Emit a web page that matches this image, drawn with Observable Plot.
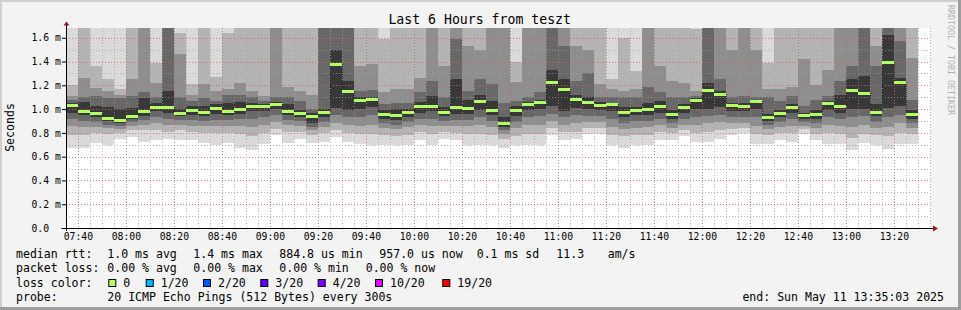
<!DOCTYPE html>
<html><head><meta charset="utf-8">
<script src="https://cdn.jsdelivr.net/npm/d3@7"></script>
<script src="https://cdn.jsdelivr.net/npm/@observablehq/plot@0.6"></script>
<style>
html,body{margin:0;padding:0;background:#f3f3f3;}
#wrap{position:relative;width:961px;height:310px;overflow:hidden;}
</style></head><body><div id="wrap"></div>
<script>
// ---- data ----
const binEnd = ["07:40","07:45","07:50","07:55","08:00","08:05","08:10","08:15","08:20","08:25","08:30","08:35","08:40","08:45","08:50","08:55",
"09:00","09:05","09:10","09:15","09:20","09:25","09:30","09:35","09:40","09:45","09:50","09:55",
"10:00","10:05","10:10","10:15","10:20","10:25","10:30","10:35","10:40","10:45","10:50","10:55",
"11:00","11:05","11:10","11:15","11:20","11:25","11:30","11:35","11:40","11:45","11:50","11:55",
"12:00","12:05","12:10","12:15","12:20","12:25","12:30","12:35","12:40","12:45","12:50","12:55",
"13:00","13:05","13:10","13:15","13:20","13:25","13:30"];
// median rtt per 5-minute bin (ms)
const median = [1.034,0.984,0.964,0.928,0.908,0.945,0.981,1.020,1.015,0.967,0.989,0.973,1.006,0.984,1.000,1.023,1.023,1.043,
0.984,0.964,0.945,0.973,1.376,1.149,1.079,1.082,0.959,0.950,0.973,1.026,1.026,0.975,1.015,1.006,1.070,0.994,
0.883,0.989,1.045,1.059,1.227,1.171,1.085,1.059,1.037,1.040,0.973,0.995,1.000,1.023,0.956,1.015,1.076,1.160,
1.127,1.031,1.026,1.065,0.936,0.964,1.015,0.953,0.959,1.051,1.026,1.157,1.132,0.978,1.398,1.230,0.956];
// smoke: upper edges of the nested bands (outermost -> innermost), ms
const hi1 = [1.75,1.75,1.75,1.75,1.75,1.75,1.75,1.75,1.75,1.75,1.75,1.75,1.75,1.75,1.75,1.75,1.75,1.75,
1.75,1.75,1.75,1.75,1.75,1.75,1.75,1.75,1.75,1.75,1.75,1.75,1.75,1.75,1.75,1.75,1.75,1.75,
1.75,1.75,1.75,1.75,1.75,1.75,1.75,1.75,1.75,1.75,1.75,1.75,1.75,1.75,1.75,1.75,1.75,1.75,
1.75,1.75,1.75,1.75,1.75,1.75,1.75,1.75,1.75,1.75,1.75,1.75,1.75,1.75,1.75,1.75,1.75];
const hi2 = [1.20,1.75,1.362,1.25,1.166,1.75,1.75,1.39,1.75,1.64,1.21,1.75,1.27,1.64,1.75,1.75,1.75,1.75,
1.75,1.75,1.75,1.75,1.75,1.75,1.75,1.75,1.59,1.75,1.75,1.75,1.75,1.75,1.75,1.75,1.75,1.75,
1.75,1.40,1.75,1.75,1.75,1.75,1.75,1.75,1.75,1.25,1.60,1.32,1.75,1.75,1.75,1.75,1.67,1.75,
1.75,1.75,1.75,1.75,1.39,1.75,1.75,1.75,1.75,1.75,1.75,1.75,1.75,1.75,1.75,1.75,1.75];
const hi3 = [1.11,1.264,1.18,1.15,1.12,1.25,1.75,1.22,1.75,1.46,1.12,1.21,1.15,1.166,1.22,1.15,1.11,1.75,
1.19,1.15,1.12,1.75,1.75,1.75,1.362,1.376,1.14,1.166,1.17,1.264,1.75,1.362,1.75,1.53,1.50,1.75,
1.75,1.23,1.75,1.75,1.75,1.75,1.53,1.50,1.21,1.166,1.15,1.166,1.75,1.36,1.24,1.22,1.15,1.75,
1.75,1.50,1.75,1.50,1.166,1.166,1.19,1.42,1.20,1.33,1.75,1.75,1.75,1.53,1.75,1.75,1.43];
const hi4 = [1.076,1.104,1.11,1.09,1.09,1.11,1.14,1.10,1.75,1.10,1.07,1.09,1.07,1.12,1.12,1.10,1.07,1.10,
1.10,1.07,1.00,1.75,1.75,1.75,1.15,1.16,1.04,1.05,1.05,1.14,1.24,1.10,1.59,1.15,1.25,1.21,
1.05,1.07,1.10,1.14,1.75,1.53,1.24,1.30,1.10,1.10,1.10,1.10,1.19,1.14,1.10,1.10,1.11,1.75,
1.25,1.10,1.11,1.10,1.10,1.07,1.11,1.03,1.08,1.11,1.24,1.36,1.75,1.36,1.75,1.57,1.08];
const hi5 = [1.05,1.06,1.026,1.02,1.00,1.01,1.09,1.05,1.15,1.00,1.03,1.03,1.04,1.05,1.06,1.05,1.04,1.06,
1.04,0.99,0.97,1.00,1.50,1.236,1.10,1.10,0.99,1.00,1.00,1.06,1.11,1.02,1.25,1.08,1.12,1.07,
0.93,1.03,1.06,1.08,1.33,1.25,1.12,1.10,1.06,1.05,1.02,1.02,1.05,1.07,0.99,1.04,1.09,1.22,
1.15,1.05,1.05,1.08,0.96,0.99,1.04,0.97,0.99,1.07,1.12,1.25,1.28,1.04,1.62,1.26,0.99];
// smoke: lower edges of the nested bands (outermost -> innermost), ms
const lo1 = [0.672,0.672,0.714,0.694,0.750,0.769,0.727,0.736,0.750,0.736,0.736,0.714,0.694,0.714,0.672,0.652,0.708,0.778,
0.714,0.750,0.714,0.720,0.769,0.727,0.708,0.694,0.694,0.694,0.694,0.736,0.694,0.752,0.744,0.694,0.694,0.694,
0.672,0.694,0.694,0.694,0.783,0.736,0.747,0.792,0.792,0.700,0.672,0.700,0.700,0.740,0.740,0.775,0.727,0.727,
0.750,0.783,0.797,0.708,0.708,0.740,0.720,0.792,0.736,0.708,0.708,0.652,0.714,0.700,0.667,0.708,0.708];
const lo2 = [0.78,0.78,0.80,0.79,0.80,0.82,0.82,0.82,0.81,0.82,0.81,0.80,0.80,0.80,0.79,0.77,0.80,0.83,
0.81,0.81,0.78,0.80,0.82,0.80,0.79,0.79,0.78,0.77,0.78,0.81,0.79,0.81,0.80,0.79,0.79,0.78,
0.75,0.77,0.79,0.79,0.84,0.81,0.81,0.84,0.84,0.78,0.77,0.78,0.78,0.81,0.80,0.82,0.80,0.81,
0.82,0.83,0.84,0.79,0.78,0.80,0.80,0.83,0.79,0.80,0.79,0.76,0.79,0.78,0.77,0.80,0.79];
const lo3 = [0.86,0.85,0.85,0.84,0.83,0.86,0.87,0.88,0.87,0.87,0.86,0.86,0.86,0.86,0.86,0.85,0.87,0.89,
0.87,0.86,0.82,0.85,0.88,0.87,0.86,0.87,0.84,0.83,0.85,0.87,0.86,0.86,0.86,0.86,0.87,0.85,
0.79,0.84,0.87,0.87,0.90,0.87,0.88,0.89,0.89,0.85,0.83,0.84,0.85,0.87,0.84,0.87,0.87,0.88,
0.89,0.88,0.88,0.86,0.83,0.85,0.86,0.86,0.84,0.87,0.86,0.85,0.87,0.84,0.85,0.88,0.84];
const lo4 = [0.92,0.90,0.89,0.87,0.86,0.89,0.91,0.93,0.92,0.91,0.91,0.90,0.91,0.91,0.92,0.92,0.93,0.95,
0.91,0.90,0.85,0.89,0.95,0.93,0.93,0.95,0.88,0.87,0.89,0.92,0.92,0.90,0.91,0.91,0.93,0.90,
0.82,0.89,0.93,0.94,0.96,0.93,0.95,0.94,0.94,0.92,0.88,0.90,0.90,0.92,0.88,0.92,0.93,0.94,
0.95,0.93,0.93,0.93,0.87,0.89,0.92,0.89,0.88,0.93,0.92,0.93,0.94,0.89,0.93,0.95,0.88];
const lo5 = [0.97,0.95,0.93,0.90,0.88,0.92,0.94,0.98,0.97,0.94,0.95,0.94,0.96,0.95,0.96,0.98,0.98,1.00,
0.95,0.93,0.88,0.93,1.01,0.99,1.00,1.02,0.92,0.91,0.93,0.97,0.98,0.94,0.96,0.96,0.99,0.95,
0.85,0.94,0.99,1.00,1.03,0.98,1.01,1.00,0.99,0.98,0.93,0.95,0.95,0.97,0.92,0.97,1.00,1.00,
1.02,0.98,0.98,1.00,0.90,0.93,0.97,0.92,0.92,0.99,0.97,1.00,1.00,0.94,1.01,1.03,0.92];
const bandShades = ["#dadada","#b4b4b4","#8e8e8e","#686868","#383838"];
const yTicks = [0, 0.2, 0.4, 0.6, 0.8, 1.0, 1.2, 1.4, 1.6];
const yTickLabels = ["0.0","0.2 m","0.4 m","0.6 m","0.8 m","1.0 m","1.2 m","1.4 m","1.6 m"];
const xTickLabels = ["07:40","08:00","08:20","08:40","09:00","09:20","09:40","10:00","10:20","10:40","11:00","11:20","11:40","12:00","12:20","12:40","13:00","13:20"];
const titleText = "Last 6 Hours from teszt";
const yLabel = "Seconds";
const creditText = "RRDTOOL / TOBI OETIKER";
const statsRtt = ["median rtt:","1.0 ms avg","1.4 ms max","884.8 us min","957.0 us now","0.1 ms sd","11.3","am/s"];
const statsLoss = ["packet loss:","0.00 % avg","0.00 % max","0.00 % min","0.00 % now"];
const lossLabels = ["0","1/20","2/20","3/20","4/20","10/20","19/20"];
const lossColors = ["#b3ff66","#00b8ff","#0059ff","#5e00ff","#7e00ff","#dd00ff","#ff0000"];
const probeText = ["probe:","20 ICMP Echo Pings (512 Bytes) every 300s"];
const endText = "end: Sun May 11 13:35:03 2025";
const windowStart = "07:35:03", windowEnd = "13:35:03";

// ---- build tables ----
const toMin = s => { const p = s.split(":").map(Number); return p[0]*60 + p[1] + (p[2]||0)/60; };
const bins = binEnd.map((s, i) => ({i, end: toMin(s), start: toMin(s) - 5, median: median[i]}));
const his = [hi1, hi2, hi3, hi4, hi5], los = [lo1, lo2, lo3, lo4, lo5];
const bandRows = [];
for (let k = 0; k < 5; k++) for (const b of bins) bandRows.push({x1: b.start, x2: b.end, y1: los[k][b.i], y2: his[k][b.i], band: k});
const connectors = bins.slice(1).map(b => ({x: b.start, a: median[b.i - 1], b: b.median}));
const x0 = toMin(windowStart), x1 = toMin(windowEnd);
const minorX = d3.range(Math.ceil(x0/5)*5, x1, 5);
const majorX = xTickLabels.map(toMin);
const minorY = d3.range(1, 17).map(d => d/10);
const mono = "DejaVu Sans Mono";

const plot = Plot.plot({
  width: 961, height: 310,
  marginLeft: 66, marginRight: 31, marginTop: 28, marginBottom: 82,
  style: {background: "transparent", fontFamily: mono, fontSize: "9.75px", color: "#000"},
  x: {type: "linear", domain: [x0, x1]},
  y: {domain: [0, 1.682]},
  marks: [
    Plot.frame({fill: "#ffffff", stroke: null}),
    Plot.rect(bandRows, {x1: "x1", x2: "x2", y1: "y1", y2: "y2", fill: d => bandShades[d.band], clip: true, shapeRendering: "crispEdges"}),
    Plot.ruleX(minorX, {stroke: "#a0a0a0", strokeDasharray: "1,2", strokeOpacity: 0.7, shapeRendering: "crispEdges"}),
    Plot.ruleY(minorY, {stroke: "#a0a0a0", strokeDasharray: "1,2", strokeOpacity: 0.7, shapeRendering: "crispEdges"}),
    Plot.ruleX(majorX, {stroke: "#e05050", strokeDasharray: "1,2", strokeOpacity: 0.6, shapeRendering: "crispEdges"}),
    Plot.ruleY(yTicks.slice(1), {stroke: "#e05050", strokeDasharray: "1,2", strokeOpacity: 0.6, shapeRendering: "crispEdges"}),
    Plot.ruleX(connectors, {x: "x", y1: "a", y2: "b", stroke: "#000", strokeDasharray: "1,1", strokeOpacity: 0.6, clip: true, shapeRendering: "crispEdges"}),
    Plot.ruleY(bins, {x1: "start", x2: "end", y: "median", stroke: lossColors[0], strokeWidth: 3, clip: true, shapeRendering: "crispEdges"}),
    Plot.axisY({ticks: yTicks, tickFormat: d => yTickLabels[yTicks.indexOf(d)], tickSize: 4, tickPadding: 31, textAnchor: "start"}),
    Plot.axisX({ticks: majorX, tickFormat: d => xTickLabels[majorX.indexOf(d)], tickSize: 0, tickPadding: 5})
  ]
});
document.getElementById("wrap").appendChild(plot);

// ---- decorations (axis lines, arrows, texts, legend) ----
const svg = d3.select(plot);
const xs = plot.scale("x"), ys = plot.scale("y");
const L = xs.range[0], R = xs.range[1], B = ys.range[0], T = ys.range[1];
svg.append("line").attr("x1", L - 4.5).attr("x2", R + 3).attr("y1", B + 0.5).attr("y2", B + 0.5).attr("stroke", "#000");
svg.append("line").attr("x1", L + 0.5).attr("x2", L + 0.5).attr("y1", B + 3).attr("y2", T - 3).attr("stroke", "#000");
svg.append("path").attr("d", `M${L-2.5},${T-2.5}L${L+3.5},${T-2.5}L${L+0.5},${T-6.5}Z`).attr("fill", "#a01818");
svg.append("path").attr("d", `M${R+3},${B-2.5}L${R+3},${B+3.5}L${R+8},${B+0.5}Z`).attr("fill", "#a01818");

function txt(x, y, s, o = {}) {
  return svg.append("text").attr("x", x).attr("y", y).attr("font-family", mono)
    .attr("font-size", o.size || "11.55px").attr("fill", o.fill || "#000")
    .attr("text-anchor", o.anchor || "start").text(s);
}
txt(479.7, 23.7, titleText, {size: "13.2px", anchor: "middle"});
svg.append("text").attr("transform", "translate(13.5,127.5) rotate(-90)").attr("text-anchor", "middle")
  .attr("font-family", mono).attr("font-size", "11.55px").attr("fill", "#000").text(yLabel);
svg.append("text").attr("transform", "translate(948.3,5) rotate(90)").attr("text-anchor", "start")
  .attr("font-family", mono).attr("font-size", "8.3px").attr("fill", "#b0b0b0").text(creditText);

const rttX = [16, 107.3, 193.3, 279.3, 379.3, 476.7, 556.3, 607.7];
statsRtt.forEach((s, i) => txt(rttX[i], 258.3, s));
const lossX = [16, 107.3, 193.3, 279.3, 365.7];
statsLoss.forEach((s, i) => txt(lossX[i], 272.4, s));
txt(16, 286.5, "loss color:");
const swX = [108.3, 145.7, 203, 260.3, 317.7, 375, 442.3];
lossLabels.forEach((s, i) => {
  svg.append("rect").attr("x", swX[i] + 0.5).attr("y", 279.5).attr("width", 7).attr("height", 7)
    .attr("fill", lossColors[i]).attr("stroke", "#000").attr("stroke-width", 1);
  txt(swX[i] + 15, 286.5, s);
});
txt(16, 300.6, probeText[0]);
txt(107.3, 300.6, probeText[1]);
txt(944, 300.6, endText, {anchor: "end"});

// frame shading
svg.append("rect").attr("x", 0).attr("y", 0).attr("width", 961).attr("height", 2).attr("fill", "#cfcfcf");
svg.append("rect").attr("x", 0).attr("y", 0).attr("width", 2).attr("height", 310).attr("fill", "#cfcfcf");
svg.append("rect").attr("x", 0).attr("y", 307).attr("width", 961).attr("height", 3).attr("fill", "#9e9e9e");
svg.append("rect").attr("x", 958).attr("y", 0).attr("width", 3).attr("height", 310).attr("fill", "#9e9e9e");
</script></body></html>
